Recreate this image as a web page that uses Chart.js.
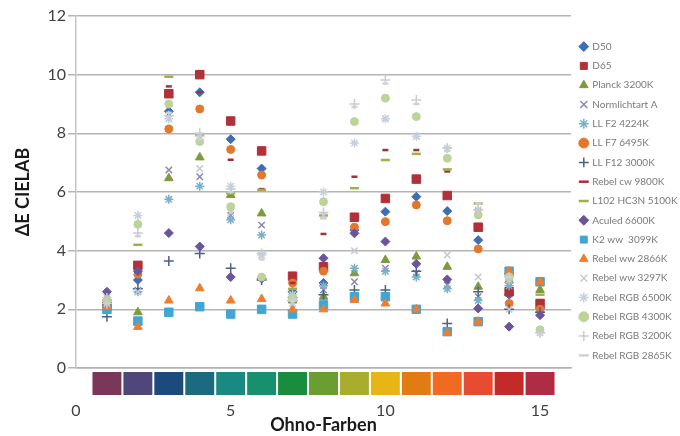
<!DOCTYPE html>
<html>
<head>
<meta charset="utf-8">
<script src="https://cdn.jsdelivr.net/npm/chart.js@4.4.1/dist/chart.umd.min.js"></script>
<style>
  html, body { margin: 0; padding: 0; background: #fff; }
  #wrap { width: 680px; height: 436px; }
</style>
</head>
<body>
<div id="wrap"><canvas id="ohnoChart" width="680" height="436"></canvas></div>
<script>
// Ohno-Testfarben 1..15
const farben = [1, 2, 3, 4, 5, 6, 7, 8, 9, 10, 11, 12, 13, 14, 15];

// Farbstreifen unter der x-Achse (eine Kachel je Testfarbe)
const ohnoColors = ['#7a3759', '#4f4779', '#1c4a7c', '#1b6a80', '#198a82', '#17906e', '#1a8c3e',
  '#6a9e2e', '#a8ad2e', '#e8b416', '#e07c12', '#f06a22', '#e84c30', '#c42a2a', '#b02c44'];

// ΔE CIELAB je Lichtquelle
const d50        = [2.2, 3.0, 8.75, 9.4, 7.8, 6.8, 2.6, 2.9, 4.7, 5.33, 5.84, 5.35, 4.36, 2.5, 2.03];
const d65        = [2.1, 3.5, 9.35, 10.0, 8.42, 7.4, 3.13, 3.45, 5.14, 5.78, 6.44, 5.88, 4.8, 2.6, 2.2];
const planck3200 = [2.4, 1.9, 6.47, 7.18, 5.9, 5.27, 2.3, 2.43, 3.23, 3.68, 3.8, 3.45, 2.77, 2.98, 2.66];
const normA      = [2.3, 2.65, 6.75, 6.52, 5.2, 4.87, 2.5, 2.66, 2.94, 3.4, 3.23, 2.83, 2.43, 2.9, 2.0];
const llF2       = [2.3, 2.6, 5.75, 6.2, 5.05, 4.53, 2.4, 2.8, 3.4, 3.3, 3.1, 2.7, 2.3, 2.8, 1.9];
const llF7       = [2.0, 3.2, 8.15, 8.83, 7.45, 6.58, 2.9, 3.3, 4.8, 4.99, 5.56, 5.02, 4.06, 2.2, 2.0];
const llF12      = [1.75, 2.7, 3.65, 3.9, 3.4, 3.0, 2.3, 2.5, 2.66, 2.66, 3.3, 1.52, 2.6, 2.0, 1.9];
const rebelCw    = [2.5, 3.4, 9.6, 9.4, 7.1, 6.1, 2.9, 4.57, 6.52, 7.43, 7.43, 6.7, 5.4, 3.0, 2.3];
const l102       = [2.3, 4.2, 9.93, 7.95, 5.95, 6.07, 2.7, 5.2, 6.13, 7.09, 7.3, 6.77, 5.61, 3.2, 2.5];
const aculed     = [2.6, 3.3, 4.6, 4.14, 3.1, 3.05, 2.4, 3.74, 4.59, 4.31, 3.55, 3.02, 2.03, 1.41, 1.8];
const k2ww       = [2.0, 1.6, 1.9, 2.09, 1.84, 2.0, 1.84, 2.15, 2.43, 2.43, 2.0, 1.24, 1.58, 3.3, 2.94];
const rebelWw2866 = [2.1, 1.4, 2.3, 2.72, 2.3, 2.35, 2.0, 2.0, 2.32, 2.2, 2.0, 1.2, 1.58, 3.3, 2.94];
const rebelWw3297 = [2.2, 2.6, 8.5, 6.8, 5.3, 3.85, 2.2, 5.2, 4.0, 8.5, 7.9, 3.85, 3.1, 2.0, 1.3];
const rgb6500    = [2.4, 5.2, 8.5, 7.9, 6.2, 3.85, 2.5, 6.0, 7.67, 8.5, 7.9, 7.49, 5.4, 3.0, 1.2];
const rgb4300    = [2.3, 4.9, 9.0, 7.72, 5.5, 3.1, 2.4, 5.67, 8.4, 9.2, 8.57, 7.15, 5.22, 3.1, 1.3];
const rgb3200    = [2.2, 4.6, 8.6, 8.0, 6.1, 3.9, 2.3, 5.3, 9.0, 9.82, 9.14, 7.5, 5.39, 3.1, 1.2];
const rgb2865    = [2.2, 4.5, 8.7, 7.8, 6.0, 3.7, 2.3, 5.1, 8.9, 9.7, 9.0, 7.4, 5.61, 3.1, 1.15];

const yTicks = [0, 2, 4, 6, 8, 10, 12];
const xTicks = [0, 5, 10, 15];

// Marker je Serie: Name, Werte, Form, Farbe, Radius
const series = [
  ['D50', d50, 'rectRot', '#3e6db5', 4.5],
  ['D65', d65, 'rect', '#b0313a', 6],
  ['Planck 3200K', planck3200, 'triangle', '#7f9a3d', 5],
  ['Normlichtart A', normA, 'crossRot', '#8b86b0', 4.5],
  ['LL F2 4224K', llF2, 'star', '#7ab0c8', 4.5],
  ['LL F7 6495K', llF7, 'circle', '#e3772e', 4],
  ['LL F12 3000K', llF12, 'cross', '#4a6288', 5],
  ['Rebel cw 9800K', rebelCw, 'line', '#a83038', 3],
  ['L102 HC3N 5100K', l102, 'line', '#9fb048', 4.5],
  ['Aculed 6600K', aculed, 'rectRot', '#6a559c', 4.5],
  ['K2 ww  3099K', k2ww, 'rect', '#41a6d3', 6],
  ['Rebel ww 2866K', rebelWw2866, 'triangle', '#f07c2e', 5],
  ['Rebel ww 3297K', rebelWw3297, 'crossRot', '#c3c9d6', 4.5],
  ['Rebel RGB 6500K', rgb6500, 'star', '#c6cfdc', 4.5],
  ['Rebel RGB 4300K', rgb4300, 'circle', '#bcd39a', 4],
  ['Rebel RGB 3200K', rgb3200, 'cross', '#c8cbd4', 5],
  ['Rebel RGB 2865K', rgb2865, 'line', '#d0d0d8', 3]
];

const filled = ['rect', 'rectRot', 'triangle', 'circle'];

const datasets = series.map(([name, values, style, color, r], i) => ({
  label: name,
  data: values.map((v, k) => ({ x: farben[k], y: v })),
  pointStyle: style,
  pointRadius: r,
  pointHoverRadius: r,
  backgroundColor: color,
  borderColor: color,
  pointBorderWidth: filled.includes(style) ? 1 : (style === 'line' ? 2.5 : 1.5),
  order: -i
}));

// Farbkacheln unterhalb der Nulllinie
const ohnoStrip = {
  id: 'ohnoStrip',
  afterDraw(chart) {
    const { ctx, scales: { x, y } } = chart;
    const top = y.getPixelForValue(0) + 4;
    ctx.save();
    ohnoColors.forEach((c, i) => {
      const l = x.getPixelForValue(farben[i] - 0.5);
      const r = x.getPixelForValue(farben[i] + 0.5);
      ctx.fillStyle = c;
      ctx.fillRect(l + 1, top, r - l - 2, 23);
    });
    ctx.restore();
  }
};

// feste Legendenbreite, Legende etwas nach unten gerückt
const legendBox = {
  id: 'legendBox',
  beforeInit(chart) {
    const fit = chart.legend.fit;
    chart.legend.fit = function () {
      fit.call(this);
      this.width = 109;
    };
  },
  afterLayout(chart) {
    chart.legend.top += 9;
    chart.legend.bottom += 9;
  }
};

new Chart(document.getElementById('ohnoChart'), {
  type: 'scatter',
  data: { datasets },
  plugins: [ohnoStrip, legendBox],
  options: {
    responsive: false,
    animation: false,
    devicePixelRatio: 1,
    layout: { padding: { top: 16, right: 0, bottom: 0, left: 0 } },
    plugins: {
      tooltip: { enabled: false },
      legend: {
        position: 'right',
        align: 'center',
        fullSize: false,
        labels: {
          usePointStyle: true,
          boxWidth: 7,
          boxHeight: 7,
          padding: 9.3,
          color: '#7a7a7a',
          font: { family: 'Lato', size: 10 },
          sort: (a, b) => a.datasetIndex - b.datasetIndex
        }
      }
    },
    scales: {
      x: {
        type: 'linear',
        min: 0,
        max: 16,
        afterFit(scale) { scale.height = 68; },
        afterBuildTicks(scale) { scale.ticks = xTicks.map(v => ({ value: v })); },
        grid: { display: false, drawTicks: false },
        border: { display: true, color: '#b0b0b0', width: 1.5 },
        ticks: { padding: 33, color: '#404040', font: { family: 'Lato', size: 16 } },
        title: {
          display: true,
          text: 'Ohno-Farben',
          color: '#1a1a1a',
          font: { family: 'Lato', size: 18, weight: 'bold' },
          padding: { top: 0, bottom: 0 }
        }
      },
      y: {
        min: 0,
        max: 12,
        afterFit(scale) { scale.width = 76; },
        afterBuildTicks(scale) { scale.ticks = yTicks.map(v => ({ value: v })); },
        grid: { color: '#b4b4b4', lineWidth: 1.5, tickLength: 8, drawTicks: true },
        border: { display: true, color: '#c4c4c4', width: 1.5 },
        ticks: { padding: 2, color: '#404040', font: { family: 'Lato', size: 16 } },
        title: {
          display: true,
          text: 'ΔE CIELAB',
          color: '#1a1a1a',
          font: { family: 'Lato', size: 18, weight: 'bold' },
          padding: { top: 12, bottom: 0 }
        }
      }
    }
  }
});
</script>
</body>
</html>
